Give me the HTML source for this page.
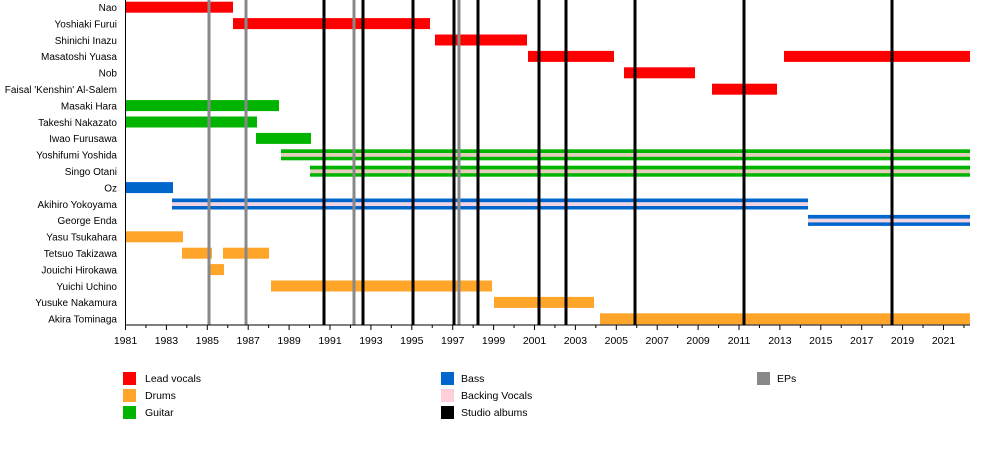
<!DOCTYPE html>
<html><head><meta charset="utf-8"><style>
html,body{margin:0;padding:0;background:#fff;}
svg{display:block;font-family:"Liberation Sans",sans-serif;}
</style></head><body>
<svg width="1000" height="450" viewBox="0 0 1000 450" xmlns="http://www.w3.org/2000/svg">
<g font-size="10" text-anchor="end" fill="#000">
<text x="117" y="11">Nao</text>
<text x="117" y="27.4">Yoshiaki Furui</text>
<text x="117" y="43.8">Shinichi Inazu</text>
<text x="117" y="60.2">Masatoshi Yuasa</text>
<text x="117" y="76.6">Nob</text>
<text x="117" y="93">Faisal 'Kenshin' Al-Salem</text>
<text x="117" y="109.4">Masaki Hara</text>
<text x="117" y="125.8">Takeshi Nakazato</text>
<text x="117" y="142.2">Iwao Furusawa</text>
<text x="117" y="158.6">Yoshifumi Yoshida</text>
<text x="117" y="175">Singo Otani</text>
<text x="117" y="191.4">Oz</text>
<text x="117" y="207.8">Akihiro Yokoyama</text>
<text x="117" y="224.2">George Enda</text>
<text x="117" y="240.6">Yasu Tsukahara</text>
<text x="117" y="257">Tetsuo Takizawa</text>
<text x="117" y="273.4">Jouichi Hirokawa</text>
<text x="117" y="289.8">Yuichi Uchino</text>
<text x="117" y="306.2">Yusuke Nakamura</text>
<text x="117" y="322.6">Akira Tominaga</text>
</g>
<!-- bars -->
<g>
<rect x="125" y="1.7" width="108" height="11" fill="#ff0000"/>
<rect x="233" y="18.1" width="197" height="11" fill="#ff0000"/>
<rect x="435" y="34.5" width="92" height="11" fill="#ff0000"/>
<rect x="528" y="50.9" width="86" height="11" fill="#ff0000"/>
<rect x="784" y="50.9" width="186" height="11" fill="#ff0000"/>
<rect x="624" y="67.3" width="71" height="11" fill="#ff0000"/>
<rect x="712" y="83.7" width="65" height="11" fill="#ff0000"/>
<rect x="125" y="100.1" width="154" height="11" fill="#00b400"/>
<rect x="125" y="116.5" width="132" height="11" fill="#00b400"/>
<rect x="256" y="132.9" width="55" height="11" fill="#00b400"/>
<rect x="281" y="149.3" width="689" height="11" fill="#00b400"/>
<rect x="281" y="153" width="689" height="3.8" fill="#ffd0d0" opacity="0.9"/>
<rect x="310" y="165.7" width="660" height="11" fill="#00b400"/>
<rect x="310" y="169.4" width="660" height="3.8" fill="#ffd0d0" opacity="0.9"/>
<rect x="125" y="182.1" width="48" height="11" fill="#0066cc"/>
<rect x="172" y="198.5" width="636" height="11" fill="#0066cc"/>
<rect x="172" y="202.2" width="636" height="3.8" fill="#f2d4e2"/>
<rect x="808" y="214.9" width="162" height="11" fill="#0066cc"/>
<rect x="808" y="218.6" width="162" height="3.8" fill="#f2d4e2"/>
<rect x="125" y="231.3" width="58" height="11" fill="#ffa52a"/>
<rect x="182" y="247.7" width="30" height="11" fill="#ffa52a"/>
<rect x="223" y="247.7" width="46" height="11" fill="#ffa52a"/>
<rect x="210" y="264.1" width="14" height="11" fill="#ffa52a"/>
<rect x="271" y="280.5" width="221" height="11" fill="#ffa52a"/>
<rect x="494" y="296.9" width="100" height="11" fill="#ffa52a"/>
<rect x="600" y="313.3" width="370" height="11" fill="#ffa52a"/>
</g>
<!-- vertical lines -->
<g stroke="#888" stroke-width="3">
<line x1="209" y1="0" x2="209" y2="325"/>
<line x1="246" y1="0" x2="246" y2="325"/>
<line x1="354" y1="0" x2="354" y2="325"/>
<line x1="459" y1="0" x2="459" y2="325"/>
</g>
<g stroke="#000" stroke-width="3">
<line x1="324" y1="0" x2="324" y2="325"/>
<line x1="363" y1="0" x2="363" y2="325"/>
<line x1="413" y1="0" x2="413" y2="325"/>
<line x1="454" y1="0" x2="454" y2="325"/>
<line x1="478" y1="0" x2="478" y2="325"/>
<line x1="539" y1="0" x2="539" y2="325"/>
<line x1="566" y1="0" x2="566" y2="325"/>
<line x1="635" y1="0" x2="635" y2="325"/>
<line x1="744" y1="0" x2="744" y2="325"/>
<line x1="892" y1="0" x2="892" y2="325"/>
</g>
<!-- axes -->
<line x1="125.5" y1="0" x2="125.5" y2="325" stroke="#000" stroke-width="1"/>
<line x1="125" y1="325" x2="970" y2="325" stroke="#000" stroke-width="1"/>
<g stroke="#000" stroke-width="1" id="ticks">
<path d="M125.5 325v5M145.95 325v3M166.4 325v5M186.85 325v3M207.3 325v5M227.75 325v3M248.2 325v5M268.65 325v3M289.1 325v5M309.55 325v3M330 325v5M350.45 325v3M370.9 325v5M391.35 325v3M411.8 325v5M432.25 325v3M452.7 325v5M473.15 325v3M493.6 325v5M514.05 325v3M534.5 325v5M554.95 325v3M575.4 325v5M595.85 325v3M616.3 325v5M636.75 325v3M657.2 325v5M677.65 325v3M698.1 325v5M718.55 325v3M739 325v5M759.45 325v3M779.9 325v5M800.35 325v3M820.8 325v5M841.25 325v3M861.7 325v5M882.15 325v3M902.6 325v5M923.05 325v3M943.5 325v5M963.95 325v3"/>
</g>
<g font-size="10.5" text-anchor="middle" fill="#000">
<text x="125.5" y="344">1981</text><text x="166.4" y="344">1983</text><text x="207.3" y="344">1985</text><text x="248.2" y="344">1987</text><text x="289.1" y="344">1989</text><text x="330" y="344">1991</text><text x="370.9" y="344">1993</text><text x="411.8" y="344">1995</text><text x="452.7" y="344">1997</text><text x="493.6" y="344">1999</text><text x="534.5" y="344">2001</text><text x="575.4" y="344">2003</text><text x="616.3" y="344">2005</text><text x="657.2" y="344">2007</text><text x="698.1" y="344">2009</text><text x="739" y="344">2011</text><text x="779.9" y="344">2013</text><text x="820.8" y="344">2015</text><text x="861.7" y="344">2017</text><text x="902.6" y="344">2019</text><text x="943.5" y="344">2021</text>
</g>
<!-- legend -->
<g font-size="10.5" fill="#000">
<rect x="123" y="372" width="13" height="13" fill="#ff0000"/><text x="145" y="382">Lead vocals</text>
<rect x="123" y="389" width="13" height="13" fill="#ffa52a"/><text x="145" y="399">Drums</text>
<rect x="123" y="406" width="13" height="13" fill="#00b400"/><text x="145" y="416">Guitar</text>
<rect x="441" y="372" width="13" height="13" fill="#0066cc"/><text x="461" y="382">Bass</text>
<rect x="441" y="389" width="13" height="13" fill="#ffd0d8"/><text x="461" y="399">Backing Vocals</text>
<rect x="441" y="406" width="13" height="13" fill="#000"/><text x="461" y="416">Studio albums</text>
<rect x="757" y="372" width="13" height="13" fill="#888"/><text x="777" y="382">EPs</text>
</g>
</svg>
</body></html>
